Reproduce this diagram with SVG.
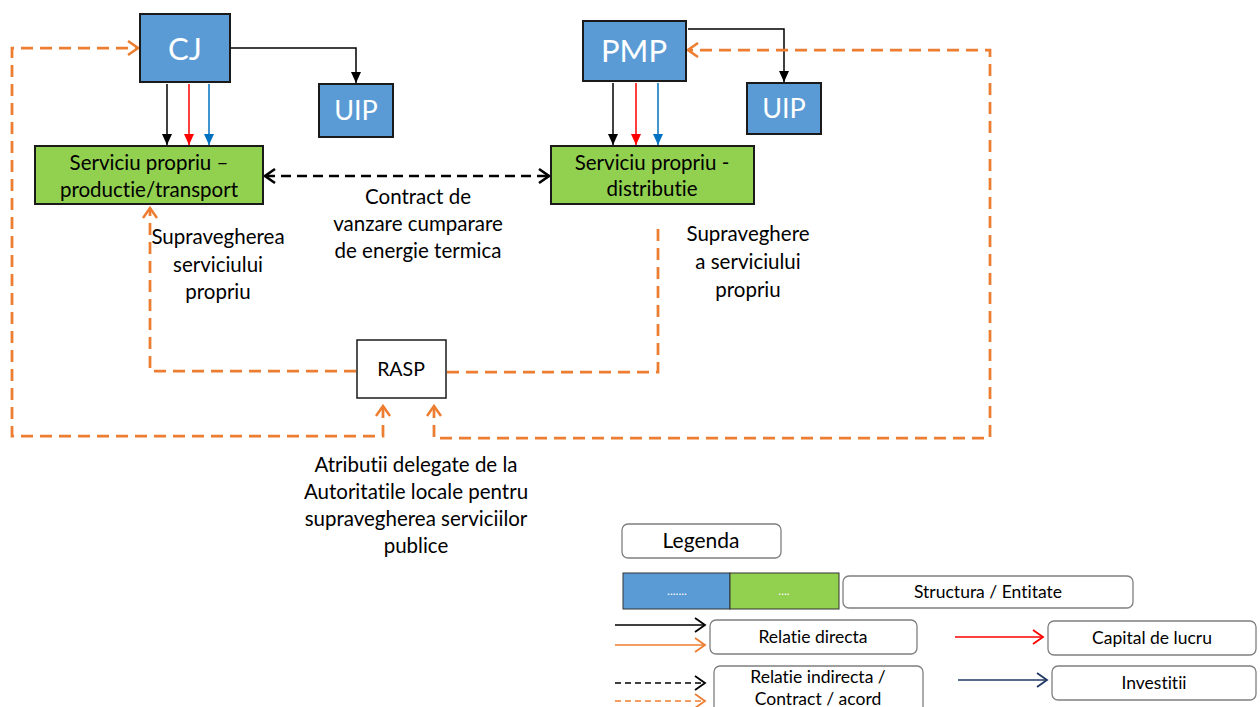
<svg xmlns="http://www.w3.org/2000/svg" width="1260" height="707" viewBox="0 0 1260 707">
<style>
text{font-family:Lato,"Open Sans","Liberation Sans",sans-serif;fill:#000;text-anchor:middle;font-variant-ligatures:none;font-feature-settings:"liga" 0}
.blue{fill:#5B9BD5;stroke:#1a1a1a;stroke-width:2}
.green{fill:#92D050;stroke:#1a1a1a;stroke-width:2}
.white{fill:#fff;stroke:#1a1a1a;stroke-width:1.5}
.wt{fill:#fff}
.leg{fill:#fff;stroke:#7f7f7f;stroke-width:1.3}
.or{fill:none;stroke:#ED7D31;stroke-width:2.75;stroke-dasharray:12 7}
.bd{fill:none;stroke:#000;stroke-width:2.5;stroke-dasharray:10 6}
.sb{fill:none;stroke:#000;stroke-width:1.5}
.sr{fill:none;stroke:#FF0000;stroke-width:1.5}
.sbl{fill:none;stroke:#0070C0;stroke-width:1.5}
.m{font-size:20.5px}
.l{font-size:17.5px}
</style>
<defs>
<marker id="tb" markerUnits="userSpaceOnUse" markerWidth="12" markerHeight="12" viewBox="0 0 12 12" refX="11" refY="6" orient="auto"><path d="M0,1 L11,6 L0,11 z" fill="#000"/></marker>
<marker id="tr" markerUnits="userSpaceOnUse" markerWidth="12" markerHeight="12" viewBox="0 0 12 12" refX="11" refY="6" orient="auto"><path d="M0,1 L11,6 L0,11 z" fill="#FF0000"/></marker>
<marker id="tbl" markerUnits="userSpaceOnUse" markerWidth="12" markerHeight="12" viewBox="0 0 12 12" refX="11" refY="6" orient="auto"><path d="M0,1 L11,6 L0,11 z" fill="#0070C0"/></marker>
<marker id="co" markerUnits="userSpaceOnUse" markerWidth="14" markerHeight="16" viewBox="0 0 14 16" refX="12" refY="8" orient="auto-start-reverse"><path d="M2,1 L12,8 L2,15" fill="none" stroke="#ED7D31" stroke-width="2.5"/></marker>
<marker id="cb" markerUnits="userSpaceOnUse" markerWidth="14" markerHeight="16" viewBox="0 0 14 16" refX="12" refY="8" orient="auto-start-reverse"><path d="M2,1 L12,8 L2,15" fill="none" stroke="#000" stroke-width="2.5"/></marker>
<marker id="lb" markerUnits="userSpaceOnUse" markerWidth="14" markerHeight="16" viewBox="0 0 14 16" refX="12" refY="8" orient="auto"><path d="M2,1 L12,8 L2,15" fill="none" stroke="#000" stroke-width="1.8"/></marker>
<marker id="lo" markerUnits="userSpaceOnUse" markerWidth="14" markerHeight="16" viewBox="0 0 14 16" refX="12" refY="8" orient="auto"><path d="M2,1 L12,8 L2,15" fill="none" stroke="#ED7D31" stroke-width="1.8"/></marker>
<marker id="lr" markerUnits="userSpaceOnUse" markerWidth="14" markerHeight="16" viewBox="0 0 14 16" refX="12" refY="8" orient="auto"><path d="M2,1 L12,8 L2,15" fill="none" stroke="#FF0000" stroke-width="1.8"/></marker>
<marker id="ln" markerUnits="userSpaceOnUse" markerWidth="14" markerHeight="16" viewBox="0 0 14 16" refX="12" refY="8" orient="auto"><path d="M2,1 L12,8 L2,15" fill="none" stroke="#203864" stroke-width="1.8"/></marker>
</defs>

<g id="connectors">
<path class="sb" d="M230,48 H356 V83" marker-end="url(#tb)"/>
<path class="sb" d="M688,29 H784 V82" marker-end="url(#tb)"/>
<path class="sb" d="M167,84 V145" marker-end="url(#tb)"/>
<path class="sr" d="M189,84 V145" marker-end="url(#tr)"/>
<path class="sbl" d="M209,84 V145" marker-end="url(#tbl)"/>
<path class="sb" d="M613,83 V145" marker-end="url(#tb)"/>
<path class="sr" d="M636,83 V145" marker-end="url(#tr)"/>
<path class="sbl" d="M658,83 V145" marker-end="url(#tbl)"/>
<path class="bd" d="M265,176 H549" marker-start="url(#cb)" marker-end="url(#cb)"/>
<path class="or" d="M356,371 H150 V208" marker-end="url(#co)"/>
<path class="or" d="M447,372 H658 V225"/>
<path class="or" d="M383,406 V436 H12 V48 H138" marker-start="url(#co)" marker-end="url(#co)"/>
<path class="or" d="M434,406 V438 H990 V50 H688" marker-start="url(#co)" marker-end="url(#co)"/>
</g>

<g id="CJ"><rect class="blue" x="140" y="14" width="90" height="68"/><text class="wt" x="185" y="60" font-size="31">CJ</text></g>
<g id="UIP1"><rect class="blue" x="319" y="84" width="74" height="53"/><text class="wt" x="356" y="120" font-size="27">UIP</text></g>
<g id="PMP"><rect class="blue" x="583" y="21" width="103" height="60"/><text class="wt" x="634" y="62" font-size="31">PMP</text></g>
<g id="UIP2"><rect class="blue" x="747" y="83" width="74" height="51"/><text class="wt" x="784" y="118" font-size="27">UIP</text></g>
<g id="SP1"><rect class="green" x="35" y="146" width="228" height="58"/><text class="m" x="149" y="170">Serviciu propriu –</text><text class="m" x="149" y="197">productie/transport</text></g>
<g id="SP2"><rect class="green" x="551" y="146" width="203" height="58"/><text class="m" x="652" y="170">Serviciu propriu -</text><text class="m" x="652" y="196">distributie</text></g>
<g id="RASP"><rect class="white" x="357" y="340" width="89" height="58"/><text x="401" y="376" font-size="19.5">RASP</text></g>

<g id="labels">
<text class="m" x="418" y="204">Contract de</text>
<text class="m" x="418" y="231">vanzare cumparare</text>
<text class="m" x="418" y="258">de energie termica</text>
<text class="m" x="218" y="244">Supravegherea</text>
<text class="m" x="218" y="272">serviciului</text>
<text class="m" x="218" y="299">propriu</text>
<text class="m" x="748" y="241">Supraveghere</text>
<text class="m" x="748" y="269">a serviciului</text>
<text class="m" x="748" y="297">propriu</text>
<text class="m" x="416" y="472">Atributii delegate de la</text>
<text class="m" x="416" y="499">Autoritatile locale pentru</text>
<text class="m" x="416" y="526">supravegherea serviciilor</text>
<text class="m" x="416" y="553">publice</text>
</g>

<g id="legend">
<rect class="leg" x="622" y="524" width="159" height="34" rx="6"/><text x="701" y="548" font-size="21">Legenda</text>
<rect x="623" y="573" width="107" height="36" fill="#5B9BD5" stroke="#333" stroke-width="1"/>
<rect x="730" y="573" width="109" height="36" fill="#92D050" stroke="#333" stroke-width="1"/>
<text class="wt" x="677" y="595" font-size="12">.......</text>
<text class="wt" x="784" y="595" font-size="12">....</text>
<rect class="leg" x="843" y="576" width="290" height="32" rx="6"/><text class="l" x="988" y="598">Structura / Entitate</text>
<path class="sb" d="M615,625 H705" marker-end="url(#lb)"/>
<path d="M615,645 H705" fill="none" stroke="#ED7D31" stroke-width="1.5" marker-end="url(#lo)"/>
<rect class="leg" x="710" y="620" width="207" height="34" rx="6"/><text class="l" x="813" y="643">Relatie directa</text>
<path d="M955,637 H1043" fill="none" stroke="#FF0000" stroke-width="1.5" marker-end="url(#lr)"/>
<rect class="leg" x="1048" y="621" width="208" height="34" rx="6"/><text class="l" x="1152" y="644">Capital de lucru</text>
<path d="M615,683 H705" fill="none" stroke="#000" stroke-width="1.5" stroke-dasharray="6 4" marker-end="url(#lb)"/>
<path d="M615,701 H705" fill="none" stroke="#ED7D31" stroke-width="1.5" stroke-dasharray="6 4" marker-end="url(#lo)"/>
<rect class="leg" x="714" y="666" width="209" height="50" rx="6"/><text class="l" x="818" y="683">Relatie indirecta /</text><text class="l" x="818" y="705">Contract / acord</text>
<path d="M958,680 H1047" fill="none" stroke="#203864" stroke-width="1.5" marker-end="url(#ln)"/>
<rect class="leg" x="1052" y="666" width="204" height="34" rx="6"/><text class="l" x="1154" y="689">Investitii</text>
</g>
</svg>
